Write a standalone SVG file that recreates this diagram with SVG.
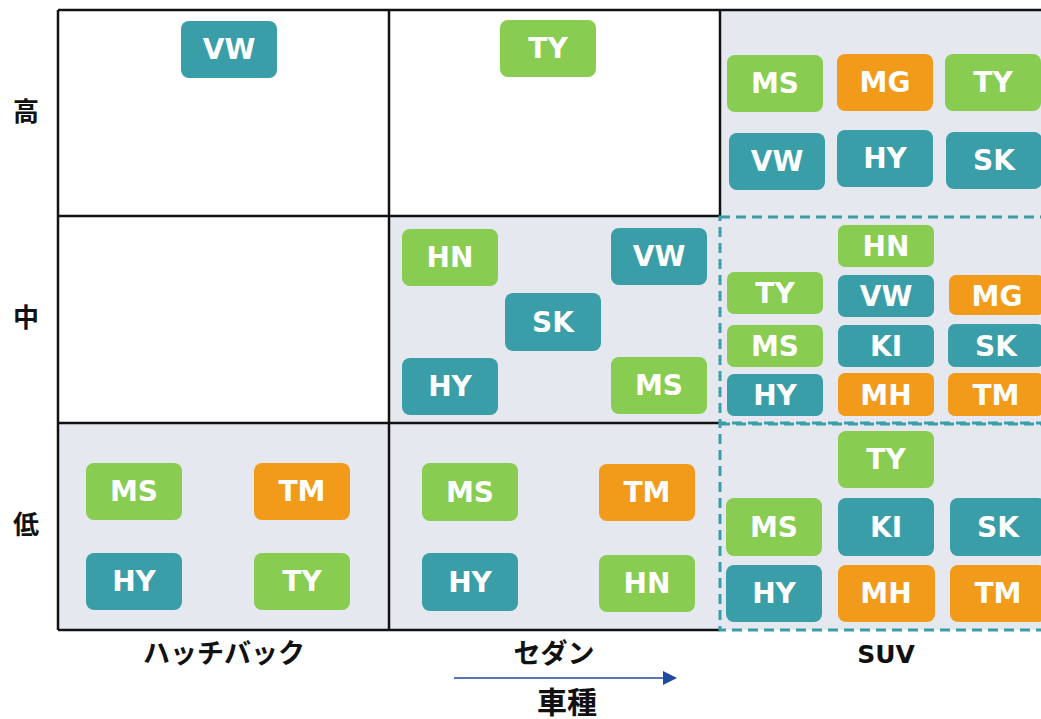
<svg xmlns="http://www.w3.org/2000/svg" width="1041" height="719" viewBox="0 0 1041 719">
<style>
.t{fill:#3A9EA9}.g{fill:#88CC52}.o{fill:#F29B1A}
.lb{font-family:"DejaVu Sans","Noto Sans CJK JP",sans-serif;font-weight:bold;font-size:28px;fill:#fff;text-anchor:middle}
.ax{font-family:"DejaVu Sans","Noto Sans CJK JP",sans-serif;font-weight:bold;fill:#111;text-anchor:middle}
.cell{fill:#E5E8EE}
.grid{stroke:#111;stroke-width:2.5;fill:none}
.dash{stroke:#3A9EA9;stroke-width:3;stroke-dasharray:10 6;fill:none}
</style>
<rect width="1041" height="719" fill="#fff"/>
<g id="cells">
<rect class="cell" x="720" y="10" width="321" height="620"/>
<rect class="cell" x="389" y="216" width="331" height="207"/>
<rect class="cell" x="389" y="423" width="331" height="207"/>
<rect class="cell" x="58" y="423" width="331" height="207"/>
</g>
<g id="grid">
<path class="grid" d="M58,10H1041M58,10V630M58,630H720M58,216H720M58,423H720M389,10V630M720,10V216"/>
<rect class="dash" x="720" y="217" width="340" height="206"/>
<rect class="dash" x="720" y="424" width="340" height="206"/>
</g>
<g id="axis-labels">
<text class="ax" x="26" y="121" font-size="26">高</text>
<text class="ax" x="26" y="327" font-size="26">中</text>
<text class="ax" x="26" y="534" font-size="26">低</text>
<text class="ax" x="224" y="663" font-size="27">ハッチバック</text>
<text class="ax" x="554" y="663" font-size="27">セダン</text>
<text class="ax" x="886" y="663" font-size="25">SUV</text>
<text class="ax" x="567" y="713" font-size="30">車種</text>
</g>
<g id="connectors">
<line x1="454" y1="678" x2="665" y2="678" stroke="#1E4BA0" stroke-width="1.6"/>
<polygon points="663,671 677,678 663,685" fill="#1E4BA0"/>
</g>
<g id="hh-vw"><rect class="t" x="181" y="21" width="96" height="57" rx="8"/><text class="lb" x="229" y="59">VW</text></g>
<g id="sh-ty"><rect class="g" x="500" y="20" width="96" height="57" rx="8"/><text class="lb" x="548" y="58">TY</text></g>
<g id="uh-ms"><rect class="g" x="727" y="55" width="96" height="57" rx="8"/><text class="lb" x="775" y="93">MS</text></g>
<g id="uh-mg"><rect class="o" x="837" y="54" width="96" height="57" rx="8"/><text class="lb" x="885" y="92">MG</text></g>
<g id="uh-ty"><rect class="g" x="945" y="54" width="96" height="57" rx="8"/><text class="lb" x="993" y="92">TY</text></g>
<g id="uh-vw"><rect class="t" x="729" y="133" width="96" height="57" rx="8"/><text class="lb" x="777" y="171">VW</text></g>
<g id="uh-hy"><rect class="t" x="837" y="130" width="96" height="57" rx="8"/><text class="lb" x="885" y="168">HY</text></g>
<g id="uh-sk"><rect class="t" x="946" y="132" width="96" height="57" rx="8"/><text class="lb" x="994" y="170">SK</text></g>
<g id="sm-hn"><rect class="g" x="402" y="229" width="96" height="57" rx="8"/><text class="lb" x="450" y="267">HN</text></g>
<g id="sm-vw"><rect class="t" x="611" y="228" width="96" height="57" rx="8"/><text class="lb" x="659" y="266">VW</text></g>
<g id="sm-sk"><rect class="t" x="505" y="293" width="96" height="58" rx="8"/><text class="lb" x="553" y="332">SK</text></g>
<g id="sm-hy"><rect class="t" x="402" y="358" width="96" height="57" rx="8"/><text class="lb" x="450" y="396">HY</text></g>
<g id="sm-ms"><rect class="g" x="611" y="357" width="96" height="57" rx="8"/><text class="lb" x="659" y="395">MS</text></g>
<g id="um-hn"><rect class="g" x="838" y="225" width="96" height="42" rx="7"/><text class="lb" x="886" y="256">HN</text></g>
<g id="um-ty"><rect class="g" x="727" y="272" width="96" height="42" rx="7"/><text class="lb" x="775" y="303">TY</text></g>
<g id="um-vw"><rect class="t" x="838" y="275" width="96" height="42" rx="7"/><text class="lb" x="886" y="306">VW</text></g>
<g id="um-mg"><rect class="o" x="949" y="275" width="96" height="40" rx="7"/><text class="lb" x="997" y="306">MG</text></g>
<g id="um-ms"><rect class="g" x="727" y="325" width="96" height="42" rx="7"/><text class="lb" x="775" y="356">MS</text></g>
<g id="um-ki"><rect class="t" x="838" y="325" width="96" height="42" rx="7"/><text class="lb" x="886" y="356">KI</text></g>
<g id="um-sk"><rect class="t" x="948" y="324" width="96" height="43" rx="7"/><text class="lb" x="996" y="356">SK</text></g>
<g id="um-hy"><rect class="t" x="727" y="374" width="96" height="42" rx="7"/><text class="lb" x="775" y="405">HY</text></g>
<g id="um-mh"><rect class="o" x="838" y="373" width="96" height="43" rx="7"/><text class="lb" x="886" y="405">MH</text></g>
<g id="um-tm"><rect class="o" x="948" y="373" width="96" height="43" rx="7"/><text class="lb" x="996" y="405">TM</text></g>
<g id="hl-ms"><rect class="g" x="86" y="463" width="96" height="57" rx="8"/><text class="lb" x="134" y="501">MS</text></g>
<g id="hl-tm"><rect class="o" x="254" y="463" width="96" height="57" rx="8"/><text class="lb" x="302" y="501">TM</text></g>
<g id="hl-hy"><rect class="t" x="86" y="553" width="96" height="57" rx="8"/><text class="lb" x="134" y="591">HY</text></g>
<g id="hl-ty"><rect class="g" x="254" y="553" width="96" height="57" rx="8"/><text class="lb" x="302" y="591">TY</text></g>
<g id="sl-ms"><rect class="g" x="422" y="463" width="96" height="58" rx="8"/><text class="lb" x="470" y="502">MS</text></g>
<g id="sl-tm"><rect class="o" x="599" y="464" width="96" height="57" rx="8"/><text class="lb" x="647" y="502">TM</text></g>
<g id="sl-hy"><rect class="t" x="422" y="553" width="96" height="58" rx="8"/><text class="lb" x="470" y="592">HY</text></g>
<g id="sl-hn"><rect class="g" x="599" y="555" width="96" height="57" rx="8"/><text class="lb" x="647" y="593">HN</text></g>
<g id="ul-ty"><rect class="g" x="838" y="431" width="96" height="57" rx="8"/><text class="lb" x="886" y="469">TY</text></g>
<g id="ul-ms"><rect class="g" x="726" y="498" width="96" height="58" rx="8"/><text class="lb" x="774" y="537">MS</text></g>
<g id="ul-ki"><rect class="t" x="838" y="498" width="96" height="58" rx="8"/><text class="lb" x="886" y="537">KI</text></g>
<g id="ul-sk"><rect class="t" x="950" y="498" width="96" height="58" rx="8"/><text class="lb" x="998" y="537">SK</text></g>
<g id="ul-hy"><rect class="t" x="726" y="565" width="96" height="57" rx="8"/><text class="lb" x="774" y="603">HY</text></g>
<g id="ul-mh"><rect class="o" x="838" y="565" width="97" height="57" rx="8"/><text class="lb" x="886" y="603">MH</text></g>
<g id="ul-tm"><rect class="o" x="950" y="565" width="96" height="57" rx="8"/><text class="lb" x="998" y="603">TM</text></g>
</svg>
